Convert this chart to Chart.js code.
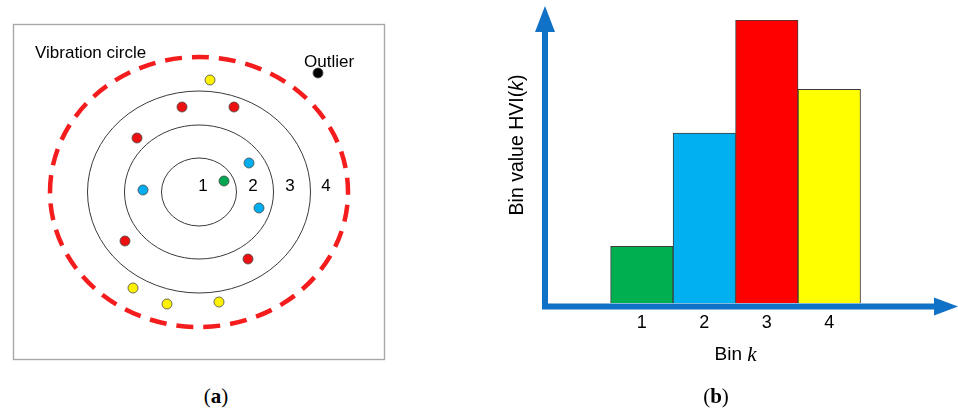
<!DOCTYPE html>
<html>
<head>
<meta charset="utf-8">
<title>Vibration circle and bin values</title>
<script src="https://cdn.jsdelivr.net/npm/chart.js@4.4.1/dist/chart.umd.min.js"></script>
<style>
    html, body { margin: 0; padding: 0; background: #fff; }
    .figure { position: relative; width: 958px; height: 411px; overflow: hidden; }
    #circles { position: absolute; left: 0; top: 0; }
    #bins { position: absolute; left: 480px; top: 0; }
    .caption {
        position: absolute; top: 384px; width: 80px; margin-left: -40px;
        text-align: center; line-height: 26px;
        font: 21px 'Liberation Serif', 'Times New Roman', serif; color: #000;
    }
</style>
</head>
<body>
<div class="figure">
    <canvas id="circles" width="400" height="370"></canvas>
    <canvas id="bins" width="478" height="411"></canvas>
    <div class="caption" style="left: 216px;">(<b>a</b>)</div>
    <div class="caption" style="left: 716px;">(<b>b</b>)</div>
</div>
<script>
// Panel (a): sample points around the ring centre, x to the right, y up.
const greenPoints = [{ x: 25, y: 11 }];
const bluePoints = [{ x: 50, y: 29 }, { x: -56, y: 2 }, { x: 60, y: -16 }];
const redPoints = [
    { x: -17, y: 85 }, { x: 35, y: 85 }, { x: -62, y: 54 },
    { x: -74, y: -49 }, { x: 49, y: -67 },
];
const yellowPoints = [{ x: 11, y: 112 }, { x: -66, y: -96 }, { x: -32, y: -112 }, { x: 20, y: -110 }];
const outlierPoints = [{ x: 119, y: 119 }];

const ringRadiusX = [37.5, 74.5, 111.5];
const ringRadiusY = [34, 67, 101];
const vibrationRadius = { x: 149, y: 135 };
const ringNumbers = ['1', '2', '3', '4'];
const ringNumberX = [4, 54, 91, 127];

// Panel (b): bin values HVI(k).
const binIndex = [1, 2, 3, 4];
const binValues = [2.0, 6.0, 10.0, 7.55];
const binColors = ['#00b050', '#00b0f0', '#ff0000', '#ffff00'];

const SANS = "'Liberation Sans', Arial, sans-serif";
const AXIS_BLUE = '#0f72c6';

const circleDecor = {
    id: 'circleDecor',
    beforeDatasetsDraw(chart) {
        const { ctx, chartArea, scales: { x, y } } = chart;
        const cx = x.getPixelForValue(0);
        const cy = y.getPixelForValue(0);
        const rx = (v) => Math.abs(x.getPixelForValue(v) - cx);
        const ry = (v) => Math.abs(y.getPixelForValue(v) - cy);

        ctx.save();
        ctx.strokeStyle = '#a8a8a8';
        ctx.lineWidth = 1.4;
        ctx.strokeRect(chartArea.left + 0.5, chartArea.top + 0.5, chartArea.width - 1, chartArea.height - 1);

        ctx.strokeStyle = '#3a3a3a';
        ctx.lineWidth = 1;
        ringRadiusX.forEach((r, i) => {
            ctx.beginPath();
            ctx.ellipse(cx, cy, rx(r), ry(ringRadiusY[i]), 0, 0, Math.PI * 2);
            ctx.stroke();
        });

        ctx.strokeStyle = '#f41c1c';
        ctx.lineWidth = 4.5;
        ctx.setLineDash([17, 10]);
        ctx.beginPath();
        ctx.ellipse(cx, cy, rx(vibrationRadius.x), ry(vibrationRadius.y), 0, Math.PI, Math.PI * 3);
        ctx.stroke();
        ctx.setLineDash([]);

        ctx.fillStyle = '#000';
        ctx.font = `17px ${SANS}`;
        ctx.textBaseline = 'middle';
        ctx.textAlign = 'center';
        ringNumbers.forEach((n, i) => ctx.fillText(n, x.getPixelForValue(ringNumberX[i]), y.getPixelForValue(6)));

        ctx.textAlign = 'left';
        ctx.fillText('Vibration circle', x.getPixelForValue(-164), y.getPixelForValue(139));
        ctx.fillText('Outlier', x.getPixelForValue(105), y.getPixelForValue(130));
        ctx.restore();
    },
};

const pointSet = (data, color) => ({
    data,
    backgroundColor: color,
    borderColor: '#4a4a4a',
    borderWidth: 0.8,
    pointRadius: 5,
});

new Chart(document.getElementById('circles'), {
    type: 'scatter',
    data: {
        datasets: [
            pointSet(greenPoints, '#00a651'),
            pointSet(bluePoints, '#00aeef'),
            pointSet(redPoints, '#ec1010'),
            pointSet(yellowPoints, '#fff200'),
            pointSet(outlierPoints, '#000000'),
        ],
    },
    options: {
        responsive: false,
        animation: false,
        devicePixelRatio: 1,
        layout: { padding: { left: 13, top: 24, right: 15, bottom: 10 } },
        plugins: { legend: { display: false }, tooltip: { enabled: false } },
        scales: {
            x: { type: 'linear', min: -186, max: 186, display: false },
            y: { type: 'linear', min: -168, max: 168, display: false },
        },
    },
    plugins: [circleDecor],
});

const arrowAxes = {
    id: 'arrowAxes',
    beforeDatasetsDraw(chart) {
        const { ctx, chartArea, scales: { y } } = chart;
        const baseY = y.getPixelForValue(0) + 3.5;
        const axisX = chartArea.left;
        const tipTop = chartArea.top - 14;
        const tipRight = chart.width;

        ctx.save();
        ctx.strokeStyle = AXIS_BLUE;
        ctx.fillStyle = AXIS_BLUE;
        ctx.lineWidth = 6;
        ctx.beginPath();
        ctx.moveTo(axisX, baseY + 3);
        ctx.lineTo(axisX, tipTop + 24);
        ctx.moveTo(axisX - 3, baseY);
        ctx.lineTo(tipRight - 22, baseY);
        ctx.stroke();

        ctx.beginPath();
        ctx.moveTo(axisX, tipTop);
        ctx.lineTo(axisX - 10, tipTop + 26);
        ctx.lineTo(axisX + 10, tipTop + 26);
        ctx.closePath();
        ctx.fill();

        ctx.beginPath();
        ctx.moveTo(tipRight, baseY);
        ctx.lineTo(tipRight - 24, baseY - 9);
        ctx.lineTo(tipRight - 24, baseY + 9);
        ctx.closePath();
        ctx.fill();
        ctx.restore();
    },
    afterDatasetsDraw(chart) {
        const { ctx, chartArea, scales: { x, y } } = chart;
        const baseY = y.getPixelForValue(0);

        ctx.save();
        ctx.fillStyle = '#000';
        ctx.textBaseline = 'middle';
        ctx.textAlign = 'center';
        ctx.font = `18px ${SANS}`;
        binIndex.forEach((k) => ctx.fillText(String(k), x.getPixelForValue(k), baseY + 20));

        // x title: "Bin k" with an italic serif k
        const titleX = x.getPixelForValue(2.5);
        ctx.font = `19px ${SANS}`;
        const head = 'Bin ';
        const headW = ctx.measureText(head).width;
        ctx.font = `italic 21px 'Liberation Serif', serif`;
        const kW = ctx.measureText('k').width;
        let left = titleX - (headW + kW) / 2;
        ctx.textAlign = 'left';
        ctx.font = `19px ${SANS}`;
        ctx.fillText(head, left, baseY + 52);
        ctx.font = `italic 21px 'Liberation Serif', serif`;
        ctx.fillText('k', left + headW, baseY + 52);

        // y title, rotated: "Bin value HVI(k)"
        const parts = [
            ['Bin value HVI(', `19.5px ${SANS}`],
            ['k', `italic 19.5px ${SANS}`],
            [')', `19.5px ${SANS}`],
        ];
        let total = 0;
        parts.forEach(([t, f]) => { ctx.font = f; total += ctx.measureText(t).width; });
        ctx.translate(chartArea.left - 27, chartArea.top + 125);
        ctx.rotate(-Math.PI / 2);
        left = -total / 2;
        parts.forEach(([t, f]) => {
            ctx.font = f;
            ctx.fillText(t, left, 0);
            left += ctx.measureText(t).width;
        });
        ctx.restore();
    },
};

new Chart(document.getElementById('bins'), {
    type: 'bar',
    data: {
        datasets: [{
            data: binIndex.map((k, i) => ({ x: k, y: binValues[i] })),
            backgroundColor: binColors,
            borderColor: '#3c3c3c',
            borderWidth: 1,
            barPercentage: 1,
            categoryPercentage: 1,
        }],
    },
    options: {
        responsive: false,
        animation: false,
        devicePixelRatio: 1,
        layout: { padding: { left: 65, top: 20, right: 10, bottom: 108 } },
        plugins: { legend: { display: false }, tooltip: { enabled: false } },
        scales: {
            x: {
                type: 'linear', min: -0.55, max: 5.9, offset: false, display: false,
                // one tick per bin so the bar ruler spans the full bin width
                afterBuildTicks: (scale) => { scale.ticks = binIndex.map((v) => ({ value: v })); },
            },
            y: { min: 0, max: 10, display: false },
        },
    },
    plugins: [arrowAxes],
});
</script>
</body>
</html>
